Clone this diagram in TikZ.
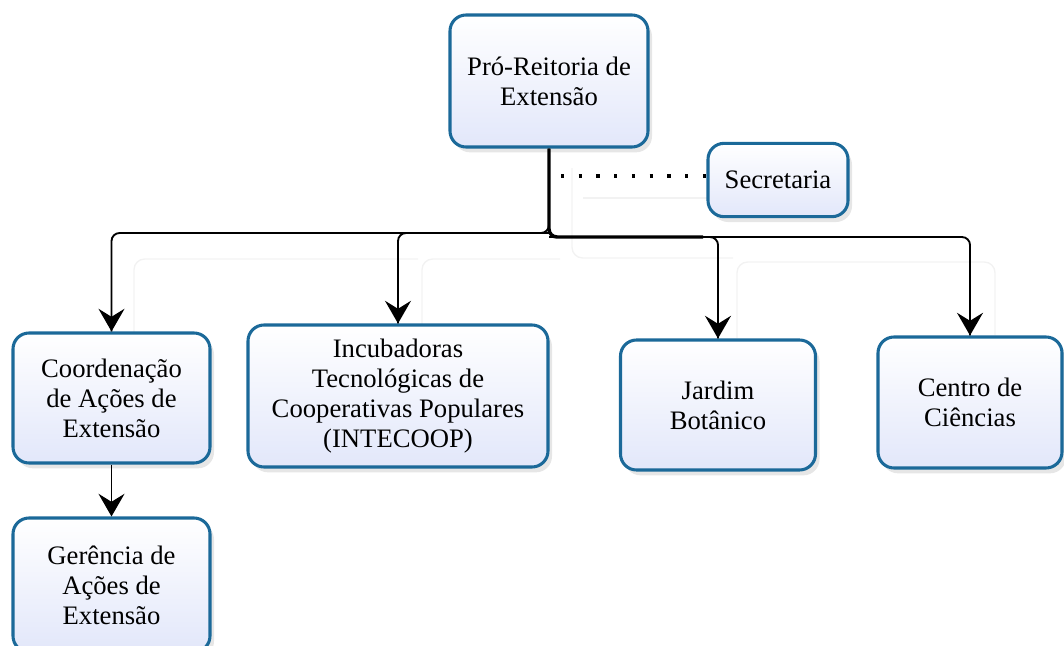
\documentclass[tikz,border=0pt]{standalone}
\usepackage{fontspec}
\setmainfont{Liberation Serif}
\usetikzlibrary{arrows.meta,shadows}
\definecolor{boxline}{RGB}{27,105,153}
\definecolor{boxfill}{RGB}{226,231,250}
\definecolor{ghostline}{RGB}{242,242,242}
\begin{document}
\begin{tikzpicture}[x=0.75pt,y=-0.75pt,
  box/.style={draw=boxline, line width=2.3pt, rounded corners=12pt,
    top color=white, bottom color=boxfill, align=center, inner sep=0pt,
    font=\fontsize{20}{22.5}\selectfont,
    drop shadow={shadow xshift=3pt, shadow yshift=-4pt, opacity=0.2}},
  conn/.style={draw=black, line width=1.4pt, rounded corners=6pt},
  tipped/.style={draw=black, line width=1.4pt,
    -{Stealth[length=17pt,width=19.5pt,inset=6pt]}},
  trunk/.style={draw=black, line width=2.6pt, rounded corners=6pt},
  dots/.style={draw=black, line width=2.4pt, dash pattern=on 2.4pt off 10.9pt},
  ghost/.style={draw=ghostline, line width=1pt, rounded corners=8pt}]
\useasboundingbox (0,0) rectangle (1064,646);

% faint outlines in the background
\draw[ghost] (134,333) |- (418,259);
\draw[ghost] (422,325) |- (560,259);
\draw[ghost] (572,168) |- (733,258);
\draw[ghost] (583,198) -- (708,198);
\draw[ghost] (737,338) |- (995,262) -- (995,335);

% units
\node[box, minimum width=148.5pt, minimum height=99pt] (pro) at (549,81)
  {Pró-Reitoria de\\Extensão};
\node[box, minimum width=105pt, minimum height=55pt] (sec) at (778,180)
  {Secretaria};
\node[box, minimum width=147.75pt, minimum height=97.5pt] (coord) at (111.5,398)
  {Coordenação\\de Ações de\\Extensão};
\node[box, minimum width=225pt, minimum height=106.5pt] (incub) at (398,396)
  {Incubadoras\\Tecnológicas de\\Cooperativas Populares\\(INTECOOP)};
\node[box, minimum width=146.25pt, minimum height=97.5pt] (jardim) at (718,405)
  {Jardim\\Botânico};
\node[box, minimum width=138pt, minimum height=98.25pt] (centro) at (970,402.5)
  {Centro de\\Ciências};
\node[box, minimum width=147.75pt, minimum height=100.5pt] (ger) at (111.5,585)
  {Gerência de\\Ações de\\Extensão};

% bus points below the top unit
\coordinate (busL) at (549,233);
\coordinate (busR) at (549,237);
\coordinate (busT) at (703,237);
\coordinate (dotS) at (561,176);

% connector lines
\draw[conn] (pro.south) -- (busL) -| (coord.north);
\draw[conn] (busL) -| (incub.north);
\draw[conn] (busR) -| (jardim.north);
\draw[conn] (busR) -| (centro.north);
\draw[trunk] (pro.south) -- (busR) -- (busT);
\draw[conn] (coord.south) -- (ger.north);
\draw[dots] (dotS) -- (dotS -| sec.west);

% arrow heads at the lower units
\foreach \n in {coord,incub,jardim,centro,ger}
  \draw[tipped] (\n.north) ++(0,-30) -- (\n.north);
\end{tikzpicture}
\end{document}
